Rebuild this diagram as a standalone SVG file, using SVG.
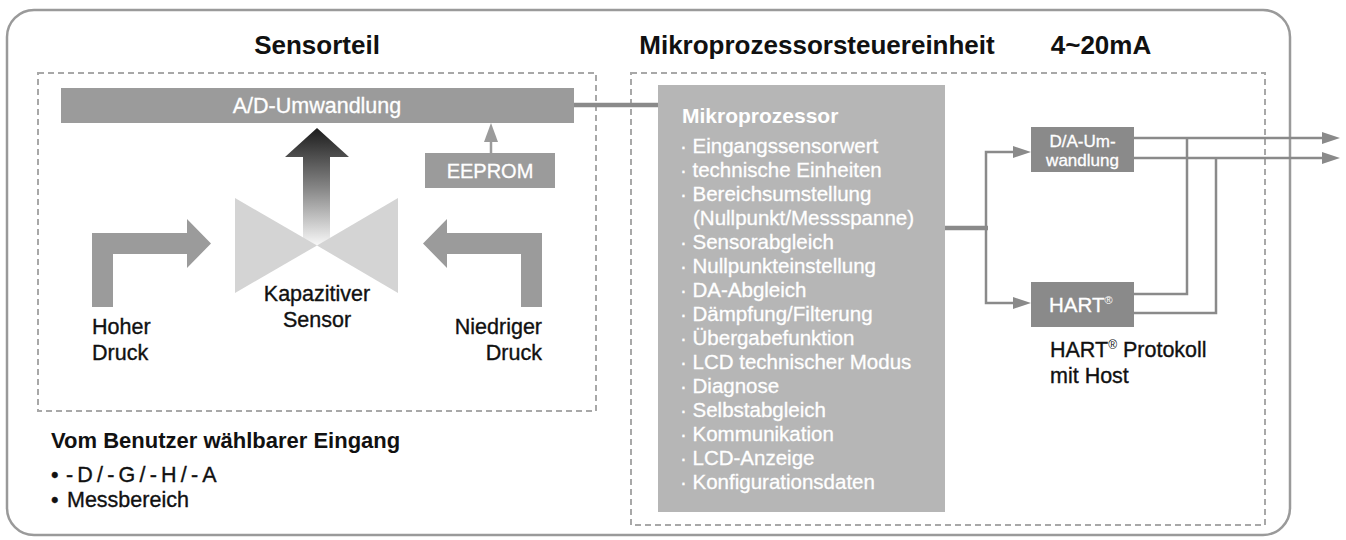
<svg xmlns="http://www.w3.org/2000/svg" width="1346" height="540" viewBox="0 0 1346 540">
<defs>
<style>
text{font-family:"Liberation Sans",Arial,sans-serif;}
.title{font-size:26px;font-weight:bold;fill:#111;}
.lbl{font-size:21.5px;fill:#111;stroke:#111;stroke-width:0.35;}
.wt{fill:#fff;stroke:#fff;stroke-width:0.3;}
.reg{stroke-width:0;}
.dash{fill:none;stroke:#a8a8a8;stroke-width:2;stroke-dasharray:6 4;}
.conn{fill:none;stroke:#8a8a8a;stroke-width:2.5;}
.thick{fill:none;stroke:#8a8a8a;stroke-width:4.5;}
.ah{fill:#8a8a8a;}
.gbox{fill:#9b9b9b;}
.dbox{fill:#8a8a8a;}
</style>
<linearGradient id="upg" gradientUnits="userSpaceOnUse" x1="0" y1="128" x2="0" y2="247">
<stop offset="0" stop-color="#1c1c1c"/>
<stop offset="0.5" stop-color="#858585"/>
<stop offset="1" stop-color="#fbfbfb"/>
</linearGradient>
</defs>
<rect x="7" y="10" width="1283" height="525" rx="27" fill="none" stroke="#9a9a9a" stroke-width="2.5"/>
<rect class="dash" x="38" y="73" width="558" height="338"/>
<rect class="dash" x="631" y="73" width="634" height="452"/>
<text class="title" x="317" y="54" text-anchor="middle">Sensorteil</text>
<text class="title" x="817" y="54" text-anchor="middle">Mikroprozessorsteuereinheit</text>
<text class="title" x="1101" y="54" text-anchor="middle">4~20mA</text>

<g id="connectors">
<line class="thick" x1="574" y1="105" x2="658" y2="105"/>
<line class="thick" x1="945" y1="228" x2="988" y2="228"/>
<path class="conn" d="M1014,152 H986 V303 H1014"/>
<polygon class="ah" points="1013,146 1031,152 1013,158"/>
<polygon class="ah" points="1013,297 1031,303 1013,309"/>
<line class="conn" x1="1134" y1="138" x2="1324" y2="138"/>
<line class="conn" x1="1134" y1="158" x2="1324" y2="158"/>
<polygon class="ah" points="1322,132 1340,138 1322,144"/>
<polygon class="ah" points="1322,152 1340,158 1322,164"/>
<path class="conn" d="M1187,138 V294 H1134"/>
<path class="conn" d="M1216,158 V313 H1134"/>
<line x1="491" y1="153" x2="491" y2="140" stroke="#9b9b9b" stroke-width="2.5"/>
<polygon fill="#9b9b9b" points="491,123 484,142 498,142"/>
</g>

<g id="ad">
<rect class="gbox" x="61" y="88" width="513" height="35"/>
<text class="wt" x="317" y="113" text-anchor="middle" font-size="21.5">A/D-Umwandlung</text>
</g>
<g id="eeprom">
<rect class="gbox" x="425" y="153" width="130" height="35"/>
<text class="wt" x="490" y="178" text-anchor="middle" font-size="20">EEPROM</text>
</g>
<g id="sensor">
<polygon fill="url(#upg)" points="317,128 349,157 330,157 330,246 303,246 303,157 285,157"/>
<polygon fill="#d4d4d4" points="235,198 317,245.5 235,293"/>
<polygon fill="#d4d4d4" points="398,198 317,245.5 398,293"/>
<text class="lbl" x="317" y="301" text-anchor="middle">Kapazitiver</text>
<text class="lbl" x="317" y="327" text-anchor="middle">Sensor</text>
</g>
<g id="high">
<polygon fill="#9b9b9b" points="92,307 92,233 187,233 187,219 211,243.5 187,268 187,254 113,254 113,307"/>
<text class="lbl" x="92" y="334">Hoher</text>
<text class="lbl" x="92" y="360">Druck</text>
</g>
<g id="low">
<polygon fill="#9b9b9b" points="542,307 542,233 447,233 447,219 423,243.5 447,268 447,254 521,254 521,307"/>
<text class="lbl" x="542" y="334" text-anchor="end">Niedriger</text>
<text class="lbl" x="542" y="360" text-anchor="end">Druck</text>
</g>
<g id="input">
<text x="51" y="448" font-size="22" font-weight="bold" fill="#111">Vom Benutzer wählbarer Eingang</text>
<text class="lbl" x="51" y="482" font-size="22">•<tspan x="66" letter-spacing="4.2">-D/-G/-H/-A</tspan></text>
<text class="lbl" x="51" y="507" font-size="23">•<tspan x="67">Messbereich</tspan></text>
</g>
<g id="micro">
<rect fill="#b6b6b6" x="658" y="85" width="287" height="427"/>
<text x="682" y="123" font-size="21" font-weight="bold" fill="#fff">Mikroprozessor</text>
<g class="wt" font-size="20.5">
<text x="680" y="153">· Eingangssensorwert</text>
<text x="680" y="177">· technische Einheiten</text>
<text x="680" y="201">· Bereichsumstellung</text>
<text x="693" y="225">(Nullpunkt/Messspanne)</text>
<text x="680" y="249">· Sensorabgleich</text>
<text x="680" y="273">· Nullpunkteinstellung</text>
<text x="680" y="297">· DA-Abgleich</text>
<text x="680" y="321">· Dämpfung/Filterung</text>
<text x="680" y="345">· Übergabefunktion</text>
<text x="680" y="369">· LCD technischer Modus</text>
<text x="680" y="393">· Diagnose</text>
<text x="680" y="417">· Selbstabgleich</text>
<text x="680" y="441">· Kommunikation</text>
<text x="680" y="465">· LCD-Anzeige</text>
<text x="680" y="489">· Konfigurationsdaten</text>
</g>
</g>
<g id="da">
<rect class="dbox" x="1031" y="127" width="103" height="45"/>
<text class="wt" x="1082.5" y="147" text-anchor="middle" font-size="17">D/A-Um-</text>
<text class="wt" x="1082.5" y="166" text-anchor="middle" font-size="17">wandlung</text>
</g>
<g id="hart">
<rect class="dbox" x="1031" y="282" width="103" height="45"/>
<text class="wt" x="1049" y="312" font-size="20.5">HART<tspan class="reg" font-size="11" dy="-8">®</tspan></text>
<text class="lbl" x="1050" y="357">HART<tspan class="reg" font-size="12" dy="-8">®</tspan><tspan dy="8"> Protokoll</tspan></text>
<text class="lbl" x="1050" y="383">mit Host</text>
</g>
</svg>
